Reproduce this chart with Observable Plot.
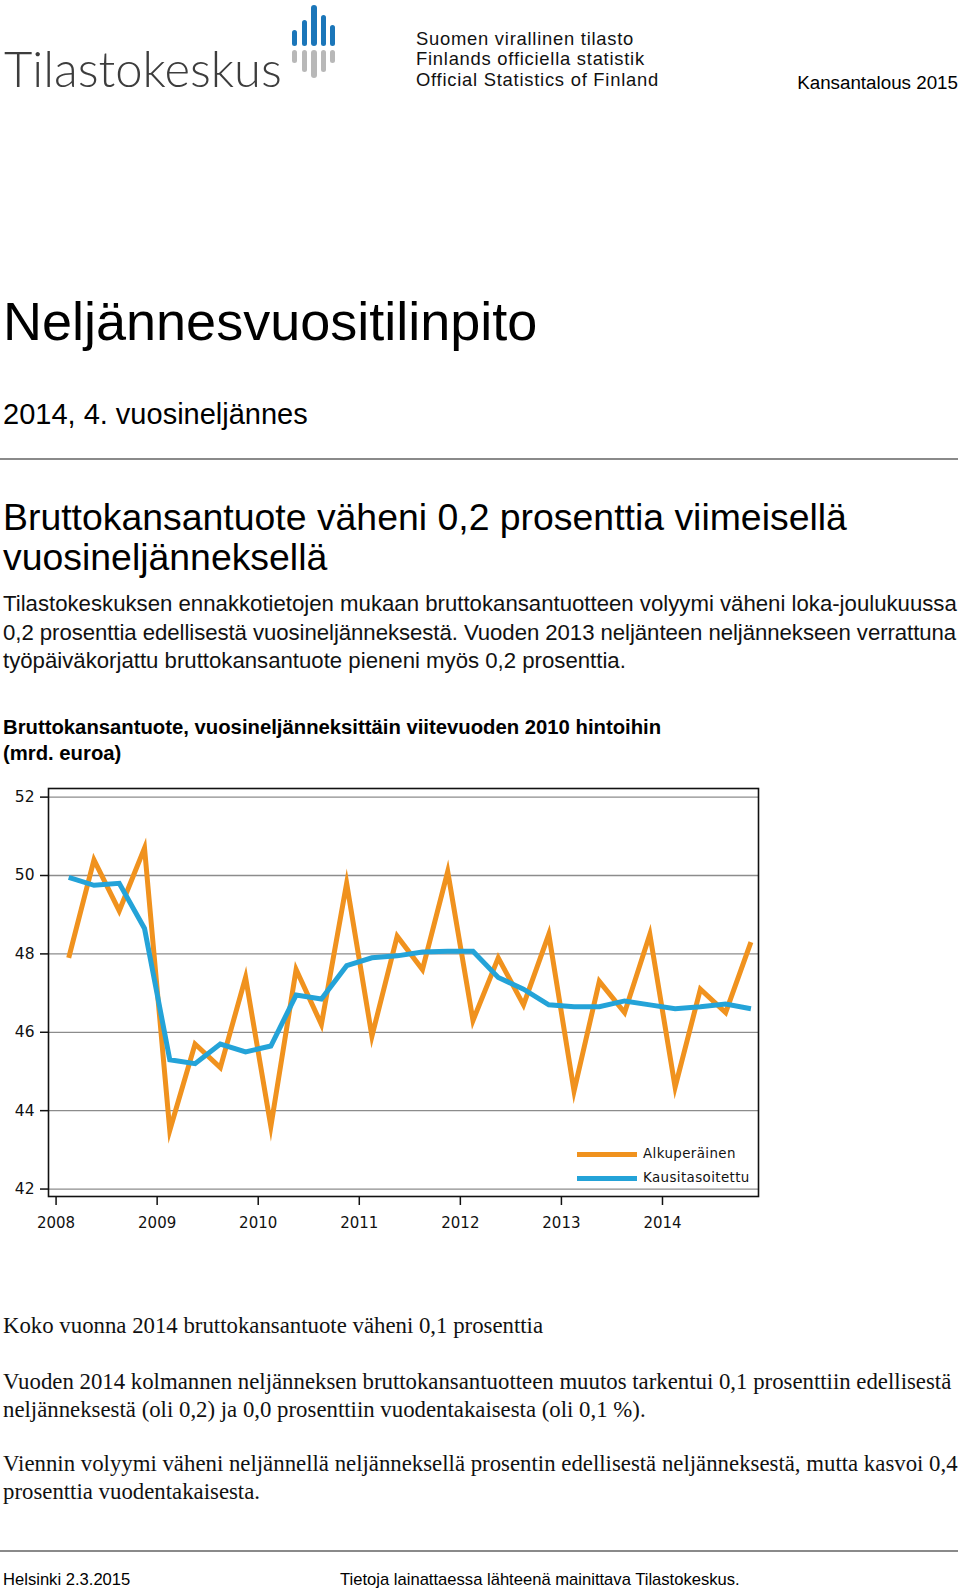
<!DOCTYPE html>
<html>
<head>
<meta charset="utf-8">
<script src="https://cdn.jsdelivr.net/npm/d3@7"></script>
<script src="https://cdn.jsdelivr.net/npm/@observablehq/plot@0.6"></script>
<style>
  html, body { margin: 0; padding: 0; background: #fff; }
  #page { position: relative; width: 960px; height: 1592px; overflow: hidden; font-family: "Liberation Sans", Arial, sans-serif; color: #000; }
  .abs { position: absolute; white-space: nowrap; }
  .bar { position: absolute; border-radius: 3px; }
  .rule { position: absolute; left: 0; width: 958px; height: 2px; background: #8a8a8a; }
  .serif { font-family: "Liberation Serif", "Times New Roman", serif; font-size: 22.8px; line-height: 27.6px; color: #111; }
  .leg { position: absolute; font-family: "DejaVu Sans", sans-serif; font-size: 13.4px; letter-spacing: 0.4px; line-height: 16px; color: #111; }
  .legline { position: absolute; height: 5px; width: 60px; }
  .sv { position: absolute; left: 416px; font-family: "Liberation Sans", Arial, sans-serif; font-size: 18.4px; letter-spacing: 0.75px; line-height: 20.6px; color: #111; white-space: nowrap; }
  #chart { position: absolute; left: 0; top: 770px; }
</style>
</head>
<body>
<div id="page">
  <!-- header logo -->
  <div class="abs" style="left:4px; top:40px; font-family:Lato, 'Open Sans', sans-serif; font-weight:300; font-size:49px; line-height:56px; color:#3d3d3d;">Tilastokeskus</div>
  <div class="bar" style="left:292px; top:30px; width:5px; height:16px; background:#1b76b9;"></div>
  <div class="bar" style="left:302px; top:20px; width:5px; height:26px; background:#1b76b9;"></div>
  <div class="bar" style="left:311px; top:5px; width:6px; height:41px; background:#1b76b9;"></div>
  <div class="bar" style="left:321px; top:15px; width:5px; height:31px; background:#1b76b9;"></div>
  <div class="bar" style="left:330px; top:25px; width:5px; height:21px; background:#1b76b9;"></div>
  <div class="bar" style="left:292px; top:50px; width:5px; height:13px; background:#b8b8b8;"></div>
  <div class="bar" style="left:302px; top:50px; width:5px; height:22px; background:#b8b8b8;"></div>
  <div class="bar" style="left:311px; top:50px; width:6px; height:28px; background:#b8b8b8;"></div>
  <div class="bar" style="left:321px; top:50px; width:5px; height:22px; background:#b8b8b8;"></div>
  <div class="bar" style="left:330px; top:50px; width:5px; height:13px; background:#b8b8b8;"></div>
  <div class="sv" style="top:28.6px;">Suomen virallinen tilasto</div>
  <div class="sv" style="top:49.2px;">Finlands officiella statistik</div>
  <div class="sv" style="top:69.8px;">Official Statistics of Finland</div>
  <div class="abs" style="right:2px; top:73px; font-size:18.8px; line-height:20px;">Kansantalous 2015</div>

  <!-- titles -->
  <div class="abs" style="left:3px; top:290.7px; font-size:54px; line-height:60px;">Neljännesvuositilinpito</div>
  <div class="abs" style="left:3px; top:397px; font-size:29px; line-height:34px;">2014, 4. vuosineljännes</div>
  <div class="rule" style="top:458px;"></div>

  <div class="abs" style="left:3px; top:496.8px; font-size:37.4px; line-height:40.6px;">Bruttokansantuote väheni 0,2 prosenttia viimeisellä<br>vuosineljänneksellä</div>
  <div class="abs" style="left:3px; top:590.2px; font-size:22.2px; line-height:28.4px; color:#111;">Tilastokeskuksen ennakkotietojen mukaan bruttokansantuotteen volyymi väheni loka-joulukuussa<br><span style="letter-spacing:-0.06px;">0,2 prosenttia edellisestä vuosineljänneksestä. Vuoden 2013 neljänteen neljännekseen verrattuna</span><br>työpäiväkorjattu bruttokansantuote pieneni myös 0,2 prosenttia.</div>

  <div class="abs" style="left:3px; top:715.4px; font-size:20.3px; line-height:25.4px; font-weight:bold;">Bruttokansantuote, vuosineljänneksittäin viitevuoden 2010 hintoihin<br>(mrd. euroa)</div>

  <div id="chart"></div>

  <!-- legend -->
  <div class="legline" style="left:577px; top:1152px; background:#f0921e;"></div>
  <div class="leg" style="left:643px; top:1146px;">Alkuperäinen</div>
  <div class="legline" style="left:577px; top:1176px; background:#24a3d8;"></div>
  <div class="leg" style="left:643px; top:1170px;">Kausitasoitettu</div>

  <!-- bottom text -->
  <div class="abs serif" style="left:3px; top:1312.2px;">Koko vuonna 2014 bruttokansantuote väheni 0,1 prosenttia</div>
  <div class="abs serif" style="left:3px; top:1368.2px;">Vuoden 2014 kolmannen neljänneksen bruttokansantuotteen muutos tarkentui 0,1 prosenttiin edellisestä<br>neljänneksestä (oli 0,2) ja 0,0 prosenttiin vuodentakaisesta (oli 0,1 %).</div>
  <div class="abs serif" style="left:3px; top:1450.2px;">Viennin volyymi väheni neljännellä neljänneksellä prosentin edellisestä neljänneksestä, mutta kasvoi 0,4<br>prosenttia vuodentakaisesta.</div>

  <div class="rule" style="top:1550px;"></div>
  <div class="abs" style="left:3px; top:1569.8px; font-size:16.6px; line-height:20px;">Helsinki 2.3.2015</div>
  <div class="abs" style="left:340px; top:1569.8px; font-size:16.6px; line-height:20px;">Tietoja lainattaessa lähteenä mainittava Tilastokeskus.</div>
</div>

<script>
// ---- data ----
const quarters = [
  "2008Q1","2008Q2","2008Q3","2008Q4",
  "2009Q1","2009Q2","2009Q3","2009Q4",
  "2010Q1","2010Q2","2010Q3","2010Q4",
  "2011Q1","2011Q2","2011Q3","2011Q4",
  "2012Q1","2012Q2","2012Q3","2012Q4",
  "2013Q1","2013Q2","2013Q3","2013Q4",
  "2014Q1","2014Q2","2014Q3","2014Q4"
];
const original = [
  47.9, 50.4, 49.1, 50.7,
  43.5, 45.7, 45.1, 47.4,
  43.6, 47.6, 46.2, 49.8,
  45.9, 48.45, 47.6, 50.1,
  46.3, 47.9, 46.7, 48.5,
  44.5, 47.3, 46.5, 48.5,
  44.6, 47.1, 46.5, 48.3
];
const adjusted = [
  49.95, 49.75, 49.8, 48.65,
  45.3, 45.2, 45.7, 45.5,
  45.65, 46.95, 46.85, 47.7,
  47.9, 47.95, 48.05, 48.07,
  48.07, 47.4, 47.1, 46.7,
  46.65, 46.65, 46.8, 46.7,
  46.6, 46.65, 46.72, 46.6
];
const yearTicks = [2008, 2009, 2010, 2011, 2012, 2013, 2014];
const valueTicks = [42, 44, 46, 48, 50, 52];
const seriesNames = ["Alkuperäinen", "Kausitasoitettu"];
const seriesColors = ["#f0921e", "#24a3d8"];

// quarter label -> position on a decimal-year axis (middle of the quarter)
const qpos = q => +q.slice(0, 4) + (+q.slice(5) - 0.5) / 4;
const rows = [];
quarters.forEach((q, i) => {
  rows.push({t: qpos(q), v: original[i], s: seriesNames[0]});
});
quarters.forEach((q, i) => {
  rows.push({t: qpos(q), v: adjusted[i], s: seriesNames[1]});
});

const chart = Plot.plot({
  width: 960,
  height: 470,
  marginLeft: 48,
  marginRight: 202,
  marginTop: 18,
  marginBottom: 44,
  style: {fontFamily: "'DejaVu Sans', sans-serif", fontSize: "15px", color: "#111", background: "transparent"},
  x: {domain: [2007.925, 2014.95]},
  y: {domain: [41.81, 52.22]},
  color: {domain: seriesNames, range: seriesColors},
  marks: [
    Plot.gridY(valueTicks, {stroke: "#8c8c8c", strokeOpacity: 1, strokeWidth: 1.3}),
    Plot.axisY(valueTicks, {tickSize: 8, tickPadding: 6, tickFormat: d => String(d), label: null, stroke: "#111", strokeWidth: 1.5, fontSize: 15.5}),
    Plot.axisX(yearTicks, {tickSize: 9, tickPadding: 12, tickFormat: d => String(d), label: null, stroke: "#111", strokeWidth: 1.5, fontSize: 15}),
    Plot.line(rows, {x: "t", y: "v", z: "s", stroke: "s", strokeWidth: 5, strokeLinejoin: "miter", strokeMiterlimit: 10, strokeLinecap: "butt"}),
    Plot.frame({stroke: "#111", strokeWidth: 1.6})
  ]
});
document.getElementById("chart").appendChild(chart);
</script>
</body>
</html>
